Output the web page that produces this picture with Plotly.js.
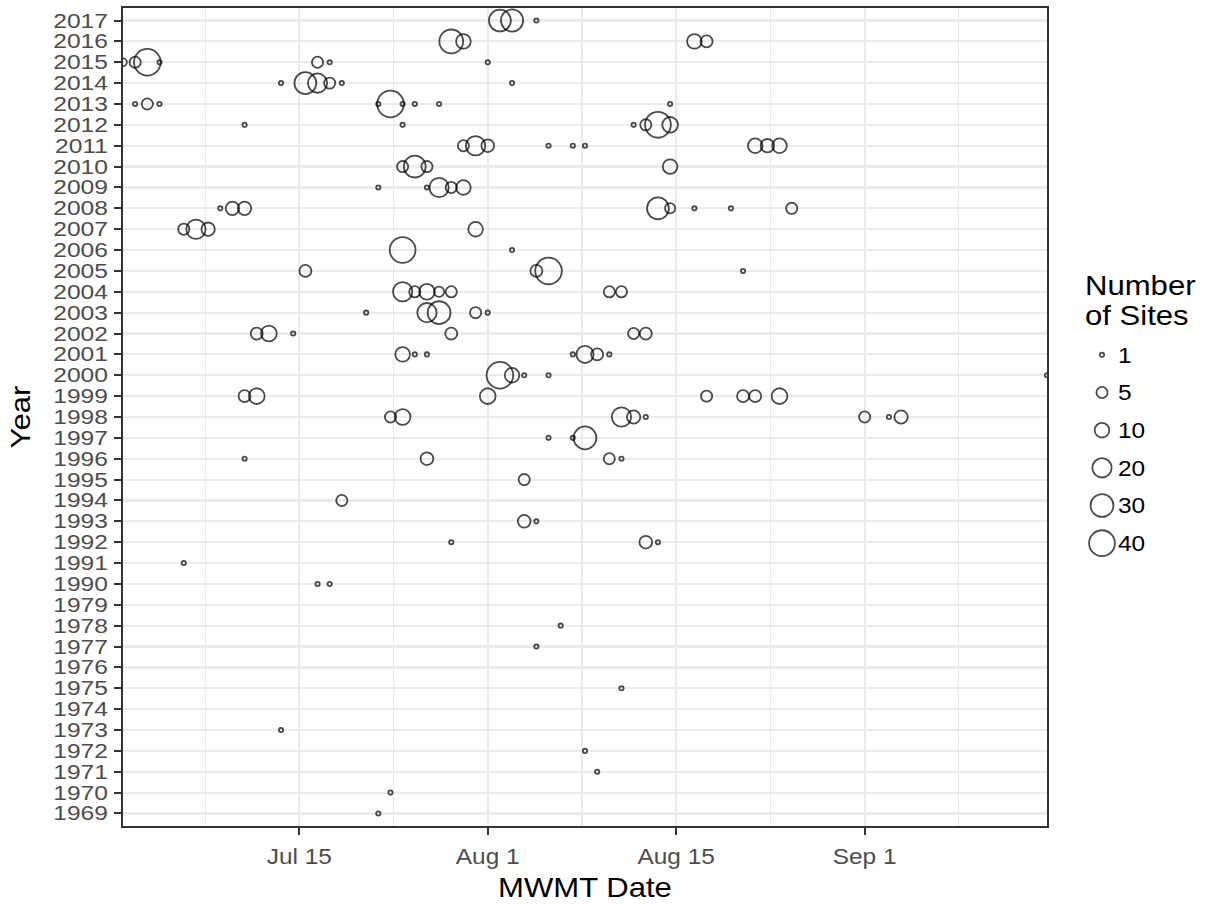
<!DOCTYPE html>
<html><head><meta charset="utf-8">
<script src="https://cdn.plot.ly/plotly-3.0.1.min.js"></script>
<style>html,body{margin:0;padding:0;background:#fff}#chart{width:1206px;height:904px}</style>
</head><body><div id="chart"></div>
<script>
// ---- data ----
const YEARS = ['1969','1970','1971','1972','1973','1974','1975','1976','1977','1978','1979',
  '1990','1991','1992','1993','1994','1995','1996','1997','1998','1999','2000','2001','2002',
  '2003','2004','2005','2006','2007','2008','2009','2010','2011','2012','2013','2014','2015','2016','2017'];
const X_TICK_DAYS = [197.5, 213, 228.5, 244];
const X_TICK_LABELS = ['Jul 15', 'Aug 1', 'Aug 15', 'Sep 1'];
const LEGEND_SITES = [1, 5, 10, 20, 30, 40];
const LEGEND_TITLE = ['Number', 'of Sites'];

// MWMT day-of-year and number of sites, one entry per year row
const rowYear = ['2017','2016','2015','2014','2013','2012','2011','2010','2009','2008','2007','2006',
  '2005','2004','2003','2002','2001','2000','1999','1998','1997','1996','1995','1994','1993','1992',
  '1991','1990','1978','1977','1975','1973','1972','1971','1970','1969'];
const rowDays = [
  [214,215,217],
  [210,211,230,231],
  [183,184,185,186,199,200,213],
  [196,198,199,200,201,215],
  [184,185,186,204,205,206,207,209,228],
  [193,206,225,226,227,228],
  [211,212,213,218,220,221,235,236,237],
  [206,207,208,228],
  [204,208,209,210,211],
  [191,192,193,227,228,230,233,238],
  [188,189,190,212],
  [206,215],
  [198,217,218,234],
  [206,207,208,209,210,223,224],
  [203,208,209,212,213],
  [194,195,197,210,225,226],
  [206,207,208,220,221,222,223],
  [214,215,216,218,259],
  [193,194,213,231,234,235,237],
  [205,206,224,225,226,244,246,247],
  [218,220,221],
  [193,208,223,224],
  [216],
  [201],
  [216,217],
  [210,226,227],
  [188],
  [199,200],
  [219],
  [217],
  [224],
  [196],
  [221],
  [222],
  [205],
  [204]
];
const rowSites = [
  [27,28,1],
  [33,10,10,6],
  [2,5,43,1,5,1,1],
  [1,27,20,5,1,1],
  [1,5,1,1,43,1,1,1,1],
  [1,1,1,5,40,12],
  [5,20,7,1,1,1,10,8,10],
  [5,27,5,10],
  [1,1,20,5,10],
  [1,8,8,27,4,1,1,5],
  [5,20,8,10],
  [40,1],
  [6,6,43,1],
  [20,5,12,4,5,5,5],
  [1,20,30,5,1],
  [6,12,1,6,5,6],
  [10,1,1,1,15,6,1],
  [43,10,1,1,1],
  [6,12,12,5,6,6,12],
  [5,12,20,8,1,5,1,8],
  [1,1,30],
  [1,7,5,1],
  [5],
  [5],
  [7,1],
  [1,7,1],
  [1],
  [1,1],
  [1],
  [1],
  [1],
  [1],
  [1],
  [1],
  [1],
  [1]
];

// ---- build ----
const px = [], py = [], pn = [];
rowYear.forEach((y, i) => {
  rowDays[i].forEach((d, j) => { px.push(d); py.push(y); pn.push(rowSites[i][j]); });
});

const LW = 1.8;
// ggplot-like area size scale: diameter in px
function diam(n) { return 5.5 + 21.5 * Math.sqrt(Math.max(0, n - 1) / 39) - 1.2; }

const W = 1206, H = 904, L = 123, R = 6, T = 8, B = 78;
const plotW = W - L - R, plotH = H - T - B;
const panelRight = 1047;
const toPX = p => (p - L) / plotW;
const toPY = p => (H - B - p) / plotH;

const minorDays = [];
for (let k = 0; k <= X_TICK_DAYS.length; k++) {
  const step = X_TICK_DAYS[1] - X_TICK_DAYS[0];
  minorDays.push(X_TICK_DAYS[0] - step / 2 + k * step);
}

const GRID = '#EBEBEB', DARK = '#333333', FONT = '"Liberation Sans", Arial, Helvetica, sans-serif';
const TICK_SIZE = 22, YTICK_SIZE = 20, TITLE_SIZE = 28;

const traces = [
  {
    type: 'scatter', mode: 'markers', x: px, y: py,
    marker: { symbol: 'circle', color: 'rgba(0,0,0,0)', size: pn.map(diam), line: { color: '#000', width: LW } },
    hoverinfo: 'skip', showlegend: false, xaxis: 'x', yaxis: 'y'
  },
  {
    type: 'scatter', mode: 'markers', x: LEGEND_SITES.map(() => 0), y: LEGEND_SITES.map(String),
    marker: { symbol: 'circle', color: 'rgba(0,0,0,0)', size: LEGEND_SITES.map(diam), line: { color: '#000', width: LW } },
    hoverinfo: 'skip', showlegend: false, xaxis: 'x2', yaxis: 'y2', cliponaxis: false
  }
];

const legTop = 336, legBottom = 562;

const layout = {
  width: W, height: H,
  margin: { l: L, r: R, t: T, b: B, pad: 0 },
  paper_bgcolor: '#fff', plot_bgcolor: '#fff',
  font: { family: FONT, color: '#000' },
  showlegend: false,
  xaxis: {
    domain: [0, toPX(panelRight)], range: [183, 259], type: 'linear',
    tickmode: 'array', tickvals: X_TICK_DAYS, ticktext: X_TICK_LABELS,
    ticks: 'outside', ticklen: 7, tickwidth: 2, tickcolor: DARK, ticklabelstandoff: 3,
    tickfont: { size: TICK_SIZE, color: '#4D4D4D', family: FONT },
    showgrid: true, gridcolor: GRID, gridwidth: 2.2,
    minor: { tickmode: 'array', tickvals: minorDays, showgrid: true, gridcolor: GRID, gridwidth: 1.1, ticks: '' },
    showline: true, linecolor: DARK, linewidth: 2, mirror: true, zeroline: false,
    title: { text: 'MWMT Date', font: { size: TITLE_SIZE, color: '#000', family: FONT }, standoff: 9 },
    fixedrange: true
  },
  yaxis: {
    type: 'category', categoryorder: 'array', categoryarray: YEARS,
    range: [-0.6, YEARS.length - 0.4],
    tickmode: 'array', tickvals: YEARS, ticktext: YEARS,
    ticks: 'outside', ticklen: 7, tickwidth: 2, tickcolor: DARK, ticklabelstandoff: 2,
    tickfont: { size: YTICK_SIZE, color: '#4D4D4D', family: FONT },
    showgrid: true, gridcolor: GRID, gridwidth: 2.2,
    showline: true, linecolor: DARK, linewidth: 2, mirror: true, zeroline: false,
    title: { text: 'Year', font: { size: TITLE_SIZE, color: '#000', family: FONT }, standoff: 25 },
    fixedrange: true
  },
  xaxis2: {
    domain: [toPX(1089), toPX(1115)], range: [-1, 1], anchor: 'y2',
    visible: false, fixedrange: true
  },
  yaxis2: {
    domain: [toPY(legBottom), toPY(legTop)], anchor: 'x2', side: 'right',
    type: 'category', categoryorder: 'array', categoryarray: LEGEND_SITES.map(String).reverse(),
    range: [-0.5, LEGEND_SITES.length - 0.5],
    showgrid: false, zeroline: false, showline: false, ticks: '', ticklabelstandoff: 2,
    tickfont: { size: TICK_SIZE, color: '#000', family: FONT },
    fixedrange: true
  },
  annotations: LEGEND_TITLE.map((line, i) => ({
    xref: 'paper', yref: 'paper', x: toPX(1083), y: toPY(285 + i * 31),
    xanchor: 'left', yanchor: 'middle', align: 'left', showarrow: false,
    text: line, font: { size: TITLE_SIZE, color: '#000', family: FONT }
  }))
};

// The reference lettering is a slightly wide Helvetica: widen glyphs a little
function widenText(gd) {
  gd.querySelectorAll('svg text').forEach(t => {
    const factor = t.closest('.ytick') ? 1.23 : 1.11;
    const lines = t.querySelectorAll('tspan.line');
    const targets = lines.length ? Array.from(lines) : [t];
    targets.forEach(el => {
      const len = el.getComputedTextLength();
      if (len > 0) {
        el.setAttribute('textLength', (len * factor).toFixed(2));
        el.setAttribute('lengthAdjust', 'spacingAndGlyphs');
      }
    });
  });
}

Plotly.newPlot('chart', traces, layout, { staticPlot: true, displayModeBar: false })
  .then(gd => widenText(gd));
</script>
</body></html>
